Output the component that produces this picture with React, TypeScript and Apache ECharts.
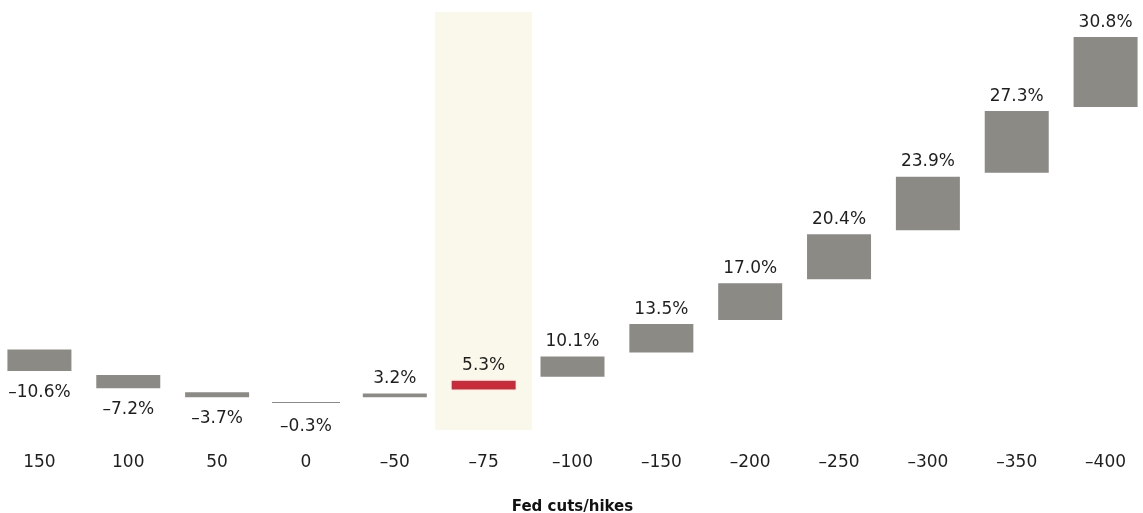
import React, { useEffect, useRef } from "react";
import * as echarts from "echarts";

const categories = ["150", "100", "50", "0", "\u201350", "\u201375", "\u2013100", "\u2013150", "\u2013200", "\u2013250", "\u2013300", "\u2013350", "\u2013400"];
const values = [-10.6, -7.2, -3.7, -0.3, 3.2, 5.3, 10.1, 13.5, 17.0, 20.4, 23.9, 27.3, 30.8];
const highlightCategory = "\u201375";
const axisTitle = "Fed cuts/hikes";

const BASE = 12.8;
const ZERO_DROP = 1.55;
const Y_MAX = 173.9;

const GRAY = "#8b8a84";
const RED = "#c92b3a";
const BAND = "#faf8ea";
const FONT = "DejaVu Sans";

const SHIFT_X = 5.4;
const WIDTH = 1143 + 5.4 + 6.3;

function fmt(v: number) {
  const s = Math.abs(v).toFixed(1) + "%";
  return v < 0 ? "\u2013" + s : s;
}

export default function App() {
  const ref = useRef<HTMLDivElement>(null);
  useEffect(() => {
    if (!ref.current) return;
    const chart = echarts.init(ref.current, null, { renderer: "svg" });
    const pivot = categories.indexOf("0");
    const offsets = values.map((_, i) => {
      if (i === pivot) return BASE - ZERO_DROP;
      let s = BASE;
      if (i < pivot) {
        for (let j = i + 1; j < pivot; j++) s += Math.abs(values[j]);
      } else {
        for (let j = pivot + 1; j < i; j++) s += Math.abs(values[j]);
      }
      return s;
    });
    const hiIdx = categories.indexOf(highlightCategory);
    const barData = values.map((v, i) => ({
      value: Math.abs(v),
      itemStyle: {
        color: i === hiIdx ? RED : GRAY,
        borderColor: i === hiIdx ? BAND : "#ffffff",
        borderWidth: i === pivot ? 0 : 2,
      },
      label: {
        show: true,
        position: v < 0 ? "bottom" : "top",
        distance: v < 0 ? (i === pivot ? 14 : 9) : 6,
        formatter: () => fmt(v),
      },
    }));
    const bandData = categories.map((c) => (c === highlightCategory ? 1 : null));

    chart.setOption({
      animation: false,
      textStyle: { fontFamily: FONT },
      grid: { left: 0, right: 0, top: 12, bottom: 83, containLabel: false, outerBoundsMode: "none" },
      xAxis: [
        {
          type: "category",
          data: categories,
          axisLine: { show: false },
          axisTick: { show: false },
          axisLabel: { color: "#1e1e1e", fontSize: 17, fontFamily: FONT, margin: 22 },
          name: axisTitle,
          nameLocation: "middle",
          nameGap: 68,
          nameTextStyle: { color: "#111", fontSize: 15, fontWeight: "bold", fontFamily: FONT },
        },
        { type: "category", data: categories, show: false },
      ],
      yAxis: [
        { type: "value", min: 0, max: Y_MAX, show: false },
        { type: "value", min: 0, max: 1, show: false },
      ],
      series: [
        {
          type: "bar",
          xAxisIndex: 1,
          yAxisIndex: 1,
          data: bandData,
          barWidth: 97,
          itemStyle: { color: BAND },
          z: 0,
          silent: true,
        },
        {
          type: "bar",
          stack: "w",
          data: offsets,
          barWidth: 68,
          itemStyle: { color: "transparent" },
          silent: true,
          z: 2,
        },
        {
          type: "bar",
          stack: "w",
          data: barData,
          barWidth: 68,
          barMinHeight: 1,
          z: 3,
          label: { color: "#1e1e1e", fontSize: 17, fontFamily: FONT },
        },
      ],
    });
    return () => chart.dispose();
  }, []);
  return <div ref={ref} style={{ position: "fixed", left: -SHIFT_X, top: 0, width: WIDTH, height: 513 }} />;
}
